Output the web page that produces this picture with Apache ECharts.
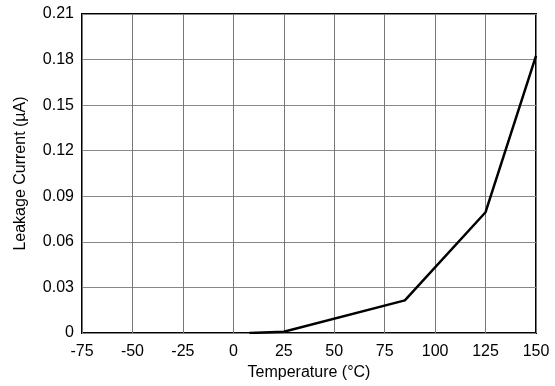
<!DOCTYPE html>
<html><head><meta charset="utf-8">
<script src="https://cdn.jsdelivr.net/npm/echarts@6/dist/echarts.min.js"></script>
<style>html,body{margin:0;padding:0;background:#fff}#c{width:555px;height:386px}</style>
</head><body><div id="c"></div>
<script>
const temperature = [8, 25, 85, 125, 150];
const leakage = [0, 0.0008, 0.0215, 0.0795, 0.1825];
const xTicks = [-75, 150, 25];
const yTicks = [0, 0.21, 0.03];

const chart = echarts.init(document.getElementById('c'));
const font = 'Liberation Sans, Arial, sans-serif';
chart.setOption({
  animation: false,
  grid: {left: 82, right: 19, top: 14, bottom: 52, show: true, borderColor: '#000', borderWidth: 2},
  xAxis: {
    type: 'value', min: xTicks[0], max: xTicks[1], interval: xTicks[2],
    name: 'Temperature (°C)', nameLocation: 'middle', nameGap: 32,
    nameTextStyle: {fontFamily: font, fontSize: 16, color: '#000'},
    axisLine: {show: false}, axisTick: {show: false},
    axisLabel: {fontFamily: font, fontSize: 16, color: '#000', margin: 11},
    splitLine: {show: true, lineStyle: {color: '#777', width: 1}}
  },
  yAxis: {
    type: 'value', min: yTicks[0], max: yTicks[1], interval: yTicks[2],
    name: 'Leakage Current (µA)', nameLocation: 'middle', nameGap: 53,
    nameTextStyle: {fontFamily: font, fontSize: 16, color: '#000'},
    axisLine: {show: false}, axisTick: {show: false},
    axisLabel: {fontFamily: font, fontSize: 16, color: '#000', margin: 8,
      formatter: v => v === 0 ? '0' : v.toFixed(2)},
    splitLine: {show: true, lineStyle: {color: '#888', width: 1}}
  },
  series: [{
    type: 'line', data: temperature.map((t, i) => [t, leakage[i]]),
    showSymbol: false, lineStyle: {color: '#000', width: 2.5}
  }]
});
</script></body></html>
